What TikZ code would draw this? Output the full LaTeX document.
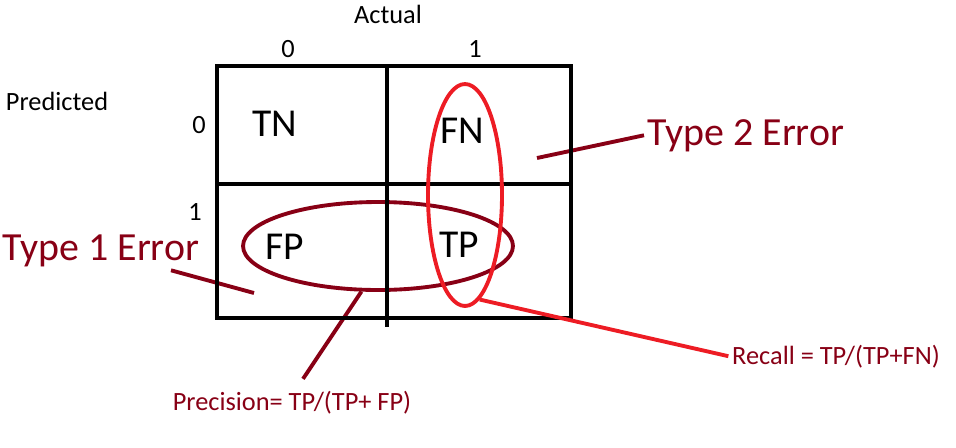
\documentclass[tikz,border=0pt]{standalone}
\usepackage{fontspec}
\setmainfont{Carlito}
\usetikzlibrary{shapes.geometric}
\definecolor{errred}{HTML}{880015}
\definecolor{recallred}{HTML}{ED1C24}

\begin{document}
\begin{tikzpicture}[
    x=0.02cm, y=-0.02cm,
    gridline/.style={black, line width=2.3pt, line cap=rect},
    celltext/.style={anchor=base, inner sep=0pt, font=\fontsize{22.5}{22}\selectfont},
    axislabel/.style={anchor=base, inner sep=0pt, font=\fontsize{15}{15}\selectfont},
    errtext/.style={anchor=base, inner sep=2pt, text=errred,
                    font=\fontsize{22.7}{22}\selectfont},
    formula/.style={anchor=base, inner sep=2pt, font=\fontsize{15}{15}\selectfont},
    oval/.style={ellipse, draw, inner sep=0pt, line width=2.2pt},
    link/.style={line width=2.2pt}
]
\useasboundingbox (0,0) rectangle (956,447);

% axis labels
\node[axislabel] (actual) at (388,23) {Actual};
\node[axislabel] (colZero) at (288,57) {0};
\node[axislabel] (colOne) at (475,57) {1};
\node[axislabel] (predicted) at (57,110) {Predicted};
\node[axislabel] (rowZero) at (199,133) {0};
\node[axislabel] (rowOne) at (195,220) {1};

% cell entries
\node[celltext] (tn) at (275,136) {TN};
\node[celltext] (fn) at (462,143) {FN};
\node[celltext] (fp) at (285,259) {FP};
\node[celltext] (tp) at (459,257) {TP};

% error and metric labels
\node[errtext] (typeOne) at (101,260) {Type 1 Error};
\node[errtext] (typeTwo) at (746,145) {Type 2 Error};
\node[formula, text=errred] (precision) at (292,410) {Precision= TP/(TP+ FP)};
\node[formula, text=errred] (recall) at (836,364) {Recall = TP/(TP+FN)};

\node[oval, draw=errred, minimum width=5.4cm, minimum height=1.76cm]
    (precisionOval) at (378,246) {};

\coordinate (fnMark) at (537,158);
\coordinate (fpMark) at (254,293);
\draw[link, errred] (fnMark) -- (typeTwo.west);
\draw[link, errred] (fpMark) -- ([xshift=-0.64cm]typeOne.south east);
\draw[link, errred] (precisionOval.-110) -- ([xshift=0.22cm,yshift=0.16cm]precision.north);

% confusion matrix grid
\draw[gridline] (217,66) rectangle (571,318);
\draw[gridline] (217,184) -- (571,184);
\draw[gridline] (387,66) -- (387,325);

\node[oval, draw=recallred, minimum width=1.48cm, minimum height=4.44cm]
    (recallOval) at (465,195) {};
\draw[link, recallred] (recallOval.-82) -- (recall.west);

\end{tikzpicture}
\end{document}
